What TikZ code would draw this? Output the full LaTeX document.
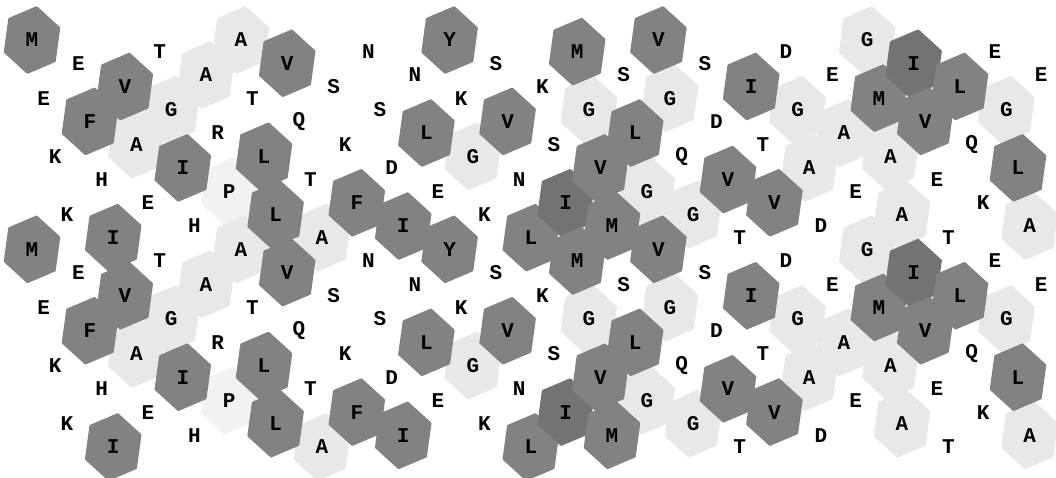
\documentclass[tikz,border=0pt]{standalone}
\usepackage{fontspec}
\setmonofont{Liberation Mono}
\definecolor{hydrogray}{gray}{0.51}
\definecolor{coregray}{gray}{0.45}
\definecolor{smallgray}{gray}{0.91}
\definecolor{faintgray}{gray}{0.95}
\tikzset{
  hexcell/.pic={\path[pic actions] (27,-12) -- (4.5,-32.5) -- (-22.5,-21) -- (-27,12) -- (-4.5,32.5) -- (22.5,21) -- cycle;}
}
\begin{document}
\begin{tikzpicture}[x=1pt,y=-1pt, line join=round,
    hydro/.style={fill=hydrogray,draw=hydrogray,line width=2.5pt},
    core/.style={fill=coregray,draw=coregray,line width=2.5pt},
    small/.style={fill=smallgray,draw=smallgray,line width=2.5pt},
    faint/.style={fill=faintgray,draw=faintgray,line width=2.5pt},
    res/.style={font=\ttfamily\bfseries\fontsize{21}{21}\selectfont,inner sep=0pt}]
        \def\xo{32} \def\dx{11.6} \def\yo{40} \def\turn{209.3}
        % d = hydrophobic, c = cluster core, l = A/G, p = P, n = other
        \def\seq{M/d,E/n,K/n,K/n,E/n,F/d,H/n,I/d,V/d,A/l,E/n,T/n,G/l,I/d,H/n,A/l,R/n,P/p,A/l,T/n,L/d,L/d,V/d,Q/n,T/n,A/l,S/n,K/n,F/d,N/n,S/n,D/n,I/d,N/n,L/d,E/n,Y/d,K/n,G/l,K/n,S/n,V/d,N/n,L/d,K/n,S/n,I/c,M/d,G/l,V/d,M/d,S/n,L/d,G/l,V/d,G/l,Q/n,G/l,S/n,D/n,V/d,T/n,I/d,T/n,V/d,D/n,G/l,A/l,D/n,E/n,A/l,E/n,G/l,M/d,A/l,A/l,I/c,V/d,E/n,T/n,L/d,Q/n,K/n,E/n,G/l,L/d,A/l,E/n}
        \useasboundingbox (0,0) rectangle (1056,477);
        \clip (0,0) rectangle (1056,477);
        % light cells first
        \foreach \aa/\k [count=\i from 0] in \seq {
            \pgfmathsetmacro\px{\xo+\dx*\i}
            \pgfmathsetmacro\py{\yo+\turn/360*mod(100*\i,360)}
            \if\k l
                \pic[small] at (\px,\py) {hexcell};
                \pic[small] at (\px,\py+\turn) {hexcell};
            \fi
            \if\k p
                \pic[faint] at (\px,\py) {hexcell};
                \pic[faint] at (\px,\py+\turn) {hexcell};
            \fi
        }
        % hydrophobic cells and the letters, each residue twice
        \foreach \aa/\k [count=\i from 0] in \seq {
            \pgfmathsetmacro\px{\xo+\dx*\i}
            \pgfmathsetmacro\py{\yo+\turn/360*mod(100*\i,360)}
            \if\k d
                \pic[hydro] at (\px,\py) {hexcell};
                \pic[hydro] at (\px,\py+\turn) {hexcell};
            \fi
            \if\k c
                \pic[core] at (\px,\py) {hexcell};
                \pic[core] at (\px,\py+\turn) {hexcell};
            \fi
            \node[res] (top\i) at (\px,\py) {\aa};
            \node[res] (bot\i) at (\px,\py+\turn) {\aa};
        }
\end{tikzpicture}
\end{document}
